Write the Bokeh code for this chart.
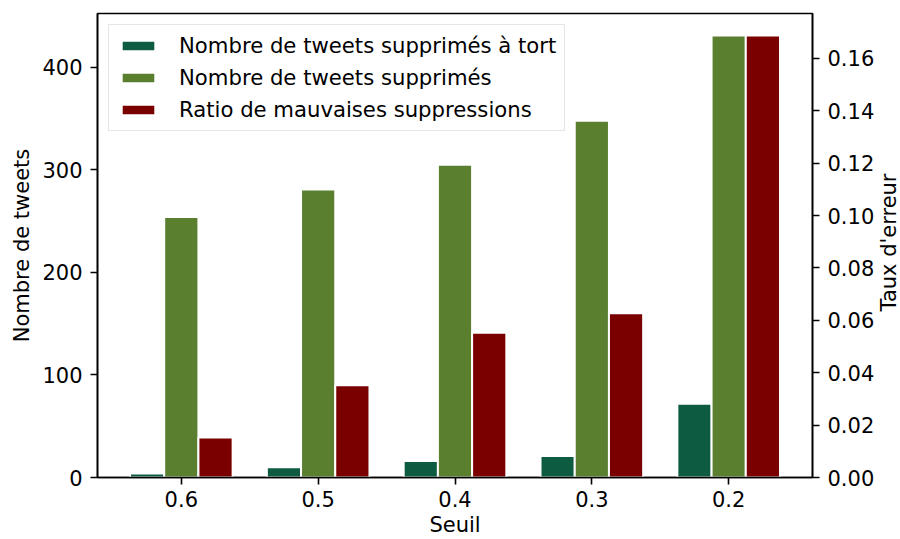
import math
from bokeh.plotting import figure
from bokeh.layouts import row
from bokeh.models import (ColumnDataSource, Range1d, LinearAxis, FixedTicker,
                          SingleIntervalTicker, NumeralTickFormatter, Legend, LegendItem, Label)
from bokeh.transform import dodge
from bokeh.embed import file_html
from bokeh.resources import INLINE

# ---- data ----
seuils = ["0.6", "0.5", "0.4", "0.3", "0.2"]
supprimes_a_tort = [4, 10, 16, 21, 72]
supprimes = [254, 281, 305, 348, 431]
ratio_mauvaises = [0.0153, 0.0352, 0.0553, 0.0627, 0.1687]

labels = ["Nombre de tweets supprimés à tort",
          "Nombre de tweets supprimés",
          "Ratio de mauvaises suppressions"]
colors = ["#0d5b40", "#5a7f2f", "#7a0000"]
x_title = "Seuil"
y_title = "Nombre de tweets"
y2_title = "Taux d'erreur"

FONT = "DejaVu Sans"
FS = "21px"

idx = list(range(len(seuils)))
src = ColumnDataSource(dict(idx=idx, a=supprimes_a_tort, b=supprimes, c=ratio_mauvaises))

n = len(seuils)
bw = 0.25
x0 = -1.5 * bw - 0.05 * (n - 1 + 3 * bw)
x1 = (n - 1) + 1.5 * bw + 0.05 * (n - 1 + 3 * bw)
ytop = max(supprimes) * 1.05

W, H = 878, 539
BT, BB = 13, 62
p = figure(width=W, height=H, output_backend="svg", toolbar_location=None,
           x_range=Range1d(x0, x1), y_range=Range1d(0, ytop),
           min_border_left=97, min_border_right=W - 812, min_border_top=BT, min_border_bottom=BB)
p.extra_y_ranges = {"ratio": Range1d(0, max(ratio_mauvaises) * 1.05)}

r1 = p.vbar(x=dodge("idx", -bw, range=p.x_range), top="a", width=bw, source=src,
            fill_color=colors[0], line_color="white", line_width=2)
r2 = p.vbar(x=dodge("idx", 0, range=p.x_range), top="b", width=bw, source=src,
            fill_color=colors[1], line_color="white", line_width=2)
r3 = p.vbar(x=dodge("idx", bw, range=p.x_range), top="c", width=bw, source=src,
            fill_color=colors[2], line_color="white", line_width=2, y_range_name="ratio")

right = LinearAxis(y_range_name="ratio")
p.add_layout(right, "right")

p.xgrid.visible = False
p.ygrid.visible = False
p.outline_line_color = "black"
p.outline_line_width = 1.6
p.outline_line_alpha = 1.0
p.background_fill_color = "white"
p.border_fill_color = "white"

p.xaxis.ticker = FixedTicker(ticks=idx)
p.xaxis.major_label_overrides = {i: s for i, s in enumerate(seuils)}
p.xaxis.axis_label = x_title
p.yaxis[0].axis_label = y_title
p.yaxis[0].ticker = SingleIntervalTicker(interval=100)
right.ticker = SingleIntervalTicker(interval=0.02)
right.formatter = NumeralTickFormatter(format="0.00")

for ax in [p.xaxis[0], p.yaxis[0], right]:
    ax.axis_line_color = "black"
    ax.axis_line_width = 1.6
    ax.major_tick_line_color = "black"
    ax.major_tick_line_width = 1.6
    ax.major_tick_out = 7
    ax.major_tick_in = 0
    ax.minor_tick_line_color = None
    ax.major_label_text_font = FONT
    ax.major_label_text_font_size = FS
    ax.major_label_text_color = "black"
    ax.major_label_standoff = 8
    ax.axis_label_text_font = FONT
    ax.axis_label_text_font_size = FS
    ax.axis_label_text_font_style = "normal"
    ax.axis_label_text_color = "black"

p.xaxis.major_label_standoff = 6
p.xaxis.axis_label_standoff = 3
p.yaxis[0].axis_label_standoff = 5

legend = Legend(items=[LegendItem(label=labels[0], renderers=[r1]),
                       LegendItem(label=labels[1], renderers=[r2]),
                       LegendItem(label=labels[2], renderers=[r3])],
                location="top_left")
legend.label_text_font = FONT
legend.label_text_font_size = "21.2px"
legend.label_text_color = "black"
legend.glyph_width = 42
legend.glyph_height = 13
legend.label_standoff = 20
legend.padding = 8
legend.spacing = 7
legend.margin = 11
legend.border_line_color = "#cccccc"
legend.border_line_width = 1.5
legend.background_fill_alpha = 0.8
p.add_layout(legend)

# narrow strip to the right holding the secondary axis title (reads bottom-to-top)
W2 = 900 - W
p2 = figure(width=W2, height=H, output_backend="svg", toolbar_location=None,
            x_range=Range1d(0, W2), y_range=Range1d(0, H),
            x_axis_location=None, y_axis_location=None,
            min_border_left=0, min_border_right=0, min_border_top=0, min_border_bottom=0)
p2.grid.visible = False
p2.outline_line_color = None
p2.background_fill_color = "white"
p2.border_fill_color = "white"
p2.add_layout(Label(x=10.5, y=H - (BT + (H - BT - BB) / 2) - 21, text=y2_title, angle=math.pi / 2,
                    text_font=FONT, text_font_size=FS, text_color="black",
                    text_align="center", text_baseline="middle", text_line_height=1.0))

open("out.html", "w").write(file_html(row(p, p2), INLINE))
